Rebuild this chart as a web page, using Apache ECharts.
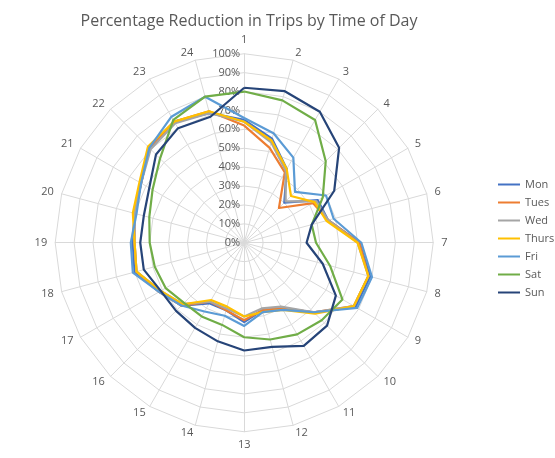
<!DOCTYPE html>
<html>
<head>
<meta charset="utf-8">
<script src="https://cdn.jsdelivr.net/npm/echarts@6/dist/echarts.min.js"></script>
<style>html,body{margin:0;padding:0;background:#fff}#main{width:555px;height:458px}</style>
</head>
<body>
<div id="main"></div>
<script>
// hours of day (radar axes)
const hours = ['1','2','3','4','5','6','7','8','9','10','11','12','13','14','15','16','17','18','19','20','21','22','23','24']
const seriesNames = ['Mon', 'Tues', 'Wed', 'Thurs', 'Fri', 'Sat', 'Sun']
const colors = ['#4472C4', '#ED7D31', '#A5A5A5', '#FFC000', '#5B9BD5', '#70AD47', '#264478']
// percentage reduction per hour
const mon = [65, 57, 45, 30, 45, 46, 61, 69, 68, 52, 40, 37, 42, 37, 37, 47, 52, 60, 59, 60, 63, 71, 74, 71]
const tues = [62, 52, 43, 26, 42, 46, 61, 68, 67, 52, 40, 37, 41, 37, 36, 47, 52, 59, 58, 60, 63, 71, 74, 72]
const wed = [64, 55, 44, 31, 44, 46, 60, 68, 67, 52, 39, 36, 39, 36, 36, 46, 51, 59, 58, 60, 63, 70, 73, 71]
const thurs = [64, 56, 45, 35, 43, 45, 60, 68, 67, 53, 41, 38, 39, 35, 35, 46, 51, 59, 58, 61, 64, 72, 74, 72]
const fri = [66, 60, 52, 38, 50, 49, 62, 70, 69, 52, 41, 38, 44, 40, 42, 47, 52, 61, 60, 59, 63, 71, 77, 80]
const sat = [80, 78, 75, 61, 48, 37, 38, 47, 60, 58, 56, 53, 50, 45, 45, 45, 48, 49, 50, 52, 56, 63, 75, 80]
const sun = [82, 83, 80, 71, 55, 37, 33, 43, 56, 62, 63, 57, 57, 54, 52, 51, 51, 55, 55, 55, 58, 66, 70, 69]
const allValues = [mon, tues, wed, thurs, fri, sat, sun]

// radar runs counter-clockwise, so keep hour 1 on top and reverse the rest
const clockwise = arr => [arr[0]].concat(arr.slice(1).reverse())

const chart = echarts.init(document.getElementById('main'))
const center = ['44%', '53%']
const radius = 189

const option = {
  title: {
    text: 'Percentage Reduction in Trips by Time of Day',
    left: 244, top: 8, textAlign: 'center',
    textStyle: { fontFamily: 'Open Sans', fontSize: 16, fontWeight: 'normal', color: '#595959' }
  },
  legend: {
    orient: 'vertical', left: 493, top: 174, itemGap: 7,
    itemWidth: 22, itemHeight: 2, icon: 'rect',
    textStyle: { fontFamily: 'Open Sans', fontSize: 11, color: '#595959' },
    data: seriesNames
  },
  radar: {
    center: center, radius: radius, startAngle: 90, splitNumber: 10,
    shape: 'polygon',
    indicator: clockwise(hours).map(h => ({ name: h, min: 0, max: 100 })),
    axisName: { color: '#595959', fontFamily: 'Open Sans', fontSize: 11 },
    nameGap: 8,
    splitLine: { lineStyle: { color: '#D9D9D9', width: 1 } },
    splitArea: { show: false },
    axisLine: { lineStyle: { color: '#D9D9D9' } },
    axisLabel: { show: false }
  },
  // polar used only to draw the 0%-100% scale along the top axis
  polar: { center: center, radius: radius },
  angleAxis: { show: false, startAngle: 90, min: 0, max: 360 },
  radiusAxis: {
    min: 0, max: 100, interval: 10,
    axisLine: { show: false }, axisTick: { show: false }, splitLine: { show: false },
    axisLabel: { formatter: '{value}%', color: '#595959', fontFamily: 'Open Sans', fontSize: 11, margin: 4 }
  },
  series: [{
    type: 'radar',
    symbol: 'none',
    data: allValues.map((v, i) => ({
      name: seriesNames[i], value: clockwise(v),
      lineStyle: { color: colors[i], width: 2.2 },
      itemStyle: { color: colors[i] }
    }))
  }]
}
chart.setOption(option)
</script>
</body>
</html>
